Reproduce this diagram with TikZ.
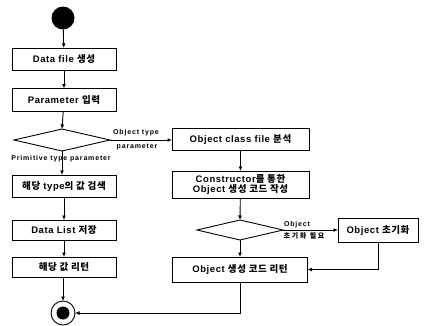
\documentclass[tikz,border=0pt]{standalone}
\usepackage{fontspec}
\setmainfont{Liberation Sans}[LetterSpace=6]
\newfontfamily\kr{Noto Sans CJK KR}[LetterSpace=6]
\newfontfamily\lblfont{Liberation Sans}[LetterSpace=12]
\newfontfamily\lblkr{Noto Sans CJK KR}[LetterSpace=25]
\newcommand{\K}[1]{{\kr #1}}
\usetikzlibrary{shapes.geometric,arrows.meta}
\begin{document}
\begin{tikzpicture}[x=1pt,y=-1pt,
  every node/.style={inner sep=0pt, outer sep=0pt},
  stepbox/.style={draw, line width=0.9pt, font=\fontsize{9.5}{11}\selectfont\bfseries, align=center},
  decision/.style={draw, diamond, line width=0.9pt, inner sep=0pt},
  flow/.style={line width=0.9pt, -{Latex[length=4.5pt,width=4pt]}},
  lbl/.style={font=\fontsize{7}{7.5}\selectfont\lblfont\bfseries}
]
\useasboundingbox (0,0) rectangle (425,325);
% left column
\node[circle, fill=black, minimum size=23pt] (start) at (63,18) {};
\node[stepbox, minimum width=104pt, minimum height=22pt] (b1) at (64,59) {Data file \K{생성}};
\node[stepbox, minimum width=104pt, minimum height=23pt] (b2) at (64,100) {Parameter \K{입력}};
\node[decision, minimum width=96pt, minimum height=22pt] (d1) at (62,140) {};
\node[stepbox, minimum width=104pt, minimum height=22pt] (b3) at (64,186) {\K{해당} type\K{의 값 검색}};
\node[stepbox, minimum width=104pt, minimum height=20pt] (b4) at (64,230) {Data List \K{저장}};
\node[stepbox, minimum width=104pt, minimum height=20pt] (b5) at (64,267) {\K{해당 값 리턴}};
\node[circle, draw, line width=0.9pt, minimum size=24pt] (end) at (63,313) {};
\node[circle, fill=black, minimum size=13pt] (endin) at (63,313) {};
% right column
\node[stepbox, minimum width=137pt, minimum height=22pt] (r1) at (240.5,139) {Object class file \K{분석}};
\node[stepbox, minimum width=137pt, minimum height=27pt] (r2) at (240.5,184.5) {Constructor\K{를 통한}\\[-1.5pt]Object \K{생성 코드 작성}};
\node[decision, minimum width=86pt, minimum height=20pt] (d2) at (240,230) {};
\node[stepbox, minimum width=80pt, minimum height=24pt] (r3) at (378,230) {Object \K{초기화}};
\node[stepbox, minimum width=135pt, minimum height=25pt] (r4) at (240,269.5) {Object \K{생성 코드 리턴}};
% labels
\node[lbl] (lp) at (61,158.5) {Primitive type parameter};
\node[lbl] (lo1) at (136,133) {Object type};
\node[lbl] (lo2) at (137,146.5) {parameter};
\node[lbl] (li1) at (297,225) {Object};
\node[lbl] (li2) at (304,235.5) {\lblkr\bfseries 초기화 필요};
% connectors
\draw[flow] (start) -- (b1);
\draw[flow] (b1) -- (b2);
\draw[flow] (b2) -- (d1.north);
\draw[flow] (d1.south) -- (b3.north -| d1.south);
\draw[flow] (b3) -- (b4);
\draw[flow] (b4) -- (b5);
\draw[flow] (b5.south -| end.north) -- (end.north);
\draw[flow] (d1.east) -- (d1.east -| r1.west);
\draw[flow] (r1) -- (r2);
\draw[flow] (r2) -- (d2.north);
\draw[flow] (d2.south) -- (r4.north);
\draw[flow] (d2.east) -- (r3.west);
\draw[flow] (r3.south) |- (r4.east);
\draw[flow] (r4.south) |- (end.east);
\end{tikzpicture}
\end{document}
